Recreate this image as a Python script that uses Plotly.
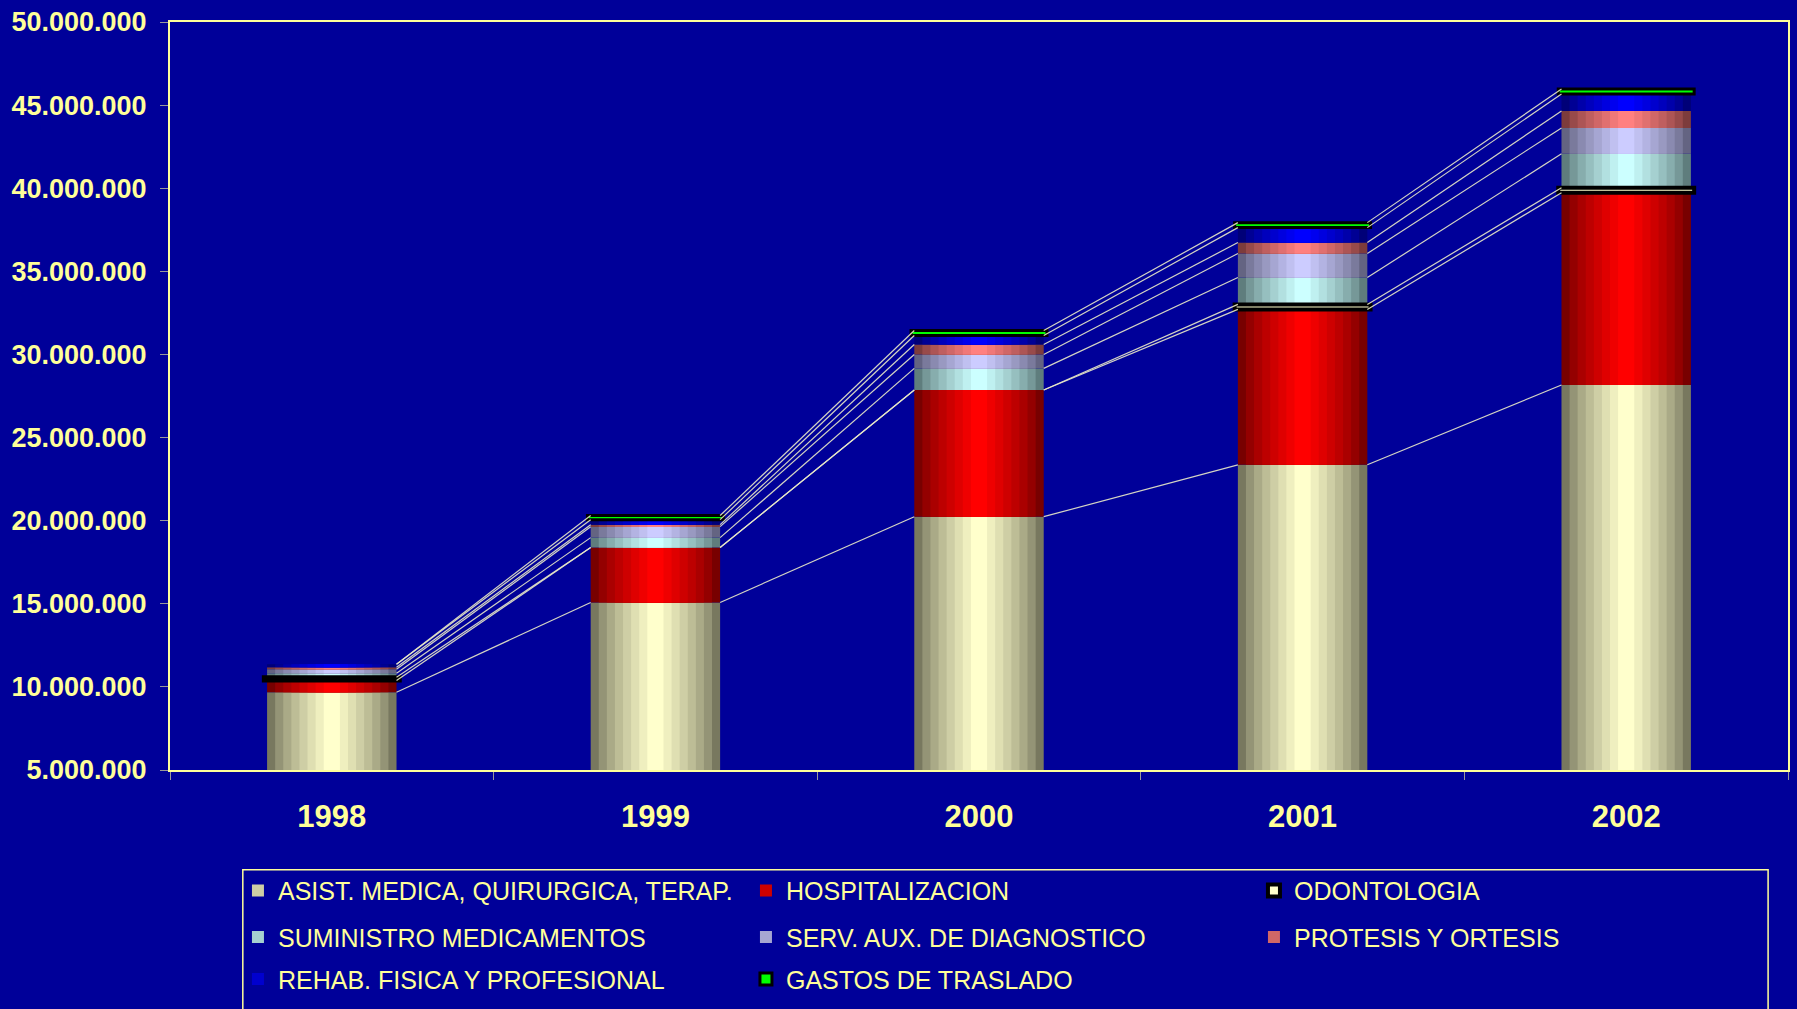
import plotly.graph_objects as go

# años y valores (millones)
anios = ['1998', '1999', '2000', '2001', '2002']

asist = [9.68, 15.08, 20.24, 23.36, 28.16]
hospital = [0.70, 3.30, 7.62, 9.35, 11.57]
odonto = [0.20, None, None, 0.30, 0.30]
suministro = [0.24, 0.60, 1.30, 1.62, 2.04]
serv_aux = [0.24, 0.66, 0.84, 1.44, 1.56]
protesis = [0.12, 0.12, 0.60, 0.66, 1.02]
rehab = [0.18, 0.30, 0.54, 0.90, 1.02]
traslado = [None, 0.25, 0.30, 0.30, 0.30]

nombres = ['ASIST. MEDICA, QUIRURGICA, TERAP.', 'HOSPITALIZACION', 'ODONTOLOGIA',
           'SUMINISTRO MEDICAMENTOS', 'SERV. AUX. DE DIAGNOSTICO', 'PROTESIS Y ORTESIS',
           'REHAB. FISICA Y PROFESIONAL', 'GASTOS DE TRASLADO']
series = [asist, hospital, odonto, suministro, serv_aux, protesis, rehab, traslado]

# colores (borde oscuro, centro claro) para simular cilindro
colores = [
    ((120, 120, 95), (255, 255, 204)),
    ((120, 0, 0), (255, 0, 0)),
    None,
    ((95, 125, 125), (204, 255, 255)),
    ((100, 100, 130), (204, 204, 255)),
    ((125, 60, 60), (255, 128, 128)),
    ((0, 0, 120), (0, 0, 255)),
    None,
]

AMARILLO = '#FFFF99'
FONDO = '#000099'
ANCHO = 0.4
CAPAS = 8

x = list(range(len(anios)))
millon = 1_000_000

# la leyenda va en tres filas (una leyenda horizontal por fila)
fila = ['legend', 'legend', 'legend', 'legend2', 'legend2', 'legend2', 'legend3', 'legend3']


def escala(s):
    return [None if v is None else v * millon for v in s]


# bases acumuladas
bases = []
acum = [0.0] * len(anios)
for s in series:
    bases.append([a * millon for a in acum])
    acum = [a + (v or 0) for a, v in zip(acum, s)]

fig = go.Figure()


def mezcla(c1, c2, t):
    return 'rgb(%d,%d,%d)' % tuple(round(a + (b - a) * t) for a, b in zip(c1, c2))


for i, (nombre, s) in enumerate(zip(nombres, series)):
    if colores[i] is None:
        continue
    borde, centro = colores[i]
    for k in range(CAPAS):
        t = k / (CAPAS - 1)
        fig.add_trace(go.Bar(
            x=x, y=escala(s), base=bases[i],
            width=ANCHO * (1 - k / CAPAS),
            marker=dict(color=mezcla(borde, centro, t ** 0.8), line=dict(width=0)),
            name=nombre, legendgroup=nombre, legendrank=i, legend=fila[i],
            showlegend=(k == CAPAS // 2),
        ))

# series finas con borde negro
for i, relleno, grosor in [(2, '#FFFFCC', 4), (7, '#00FF00', 3)]:
    fig.add_trace(go.Bar(
        x=x, y=escala(series[i]), base=bases[i],
        width=ANCHO + 0.02,
        marker=dict(color=relleno, line=dict(color='black', width=grosor)),
        name=nombres[i], legendgroup=nombres[i], legendrank=i, legend=fila[i],
    ))

# lineas de series (conectan el tope de cada serie entre barras)
for i, s in enumerate(series):
    topes = [b + (v or 0) * millon for b, v in zip(bases[i], s)]
    lx, ly = [], []
    for j in range(len(anios) - 1):
        lx += [x[j] + ANCHO / 2, x[j + 1] - ANCHO / 2, None]
        ly += [topes[j], topes[j + 1], None]
    fig.add_trace(go.Scatter(
        x=lx, y=ly, mode='lines', showlegend=False, hoverinfo='skip',
        line=dict(color='rgba(235,235,200,0.9)', width=1.2),
    ))

fuente_leyenda = dict(size=25, color=AMARILLO, family='Liberation Sans, Arial')
leyenda = dict(
    orientation='h', x=0.042, xanchor='left', yanchor='top',
    entrywidth=463, entrywidthmode='pixels',
    font=fuente_leyenda, bgcolor='rgba(0,0,0,0)', borderwidth=0,
    traceorder='normal',
)

fig.update_layout(
    width=1797, height=1009,
    barmode='overlay',
    paper_bgcolor=FONDO, plot_bgcolor=FONDO,
    separators=',.',
    font=dict(family='Liberation Sans, Arial', color=AMARILLO),
    margin=dict(l=170, r=7, t=21, b=238),
    legend=dict(leyenda, y=-0.1307),
    legend2=dict(leyenda, y=-0.193),
    legend3=dict(leyenda, y=-0.249),
    xaxis=dict(
        range=[-0.5, 4.5], tickvals=x, ticktext=anios, ticks='',
        tickfont=dict(size=31, family='Liberation Sans, Arial', weight='bold'),
        ticklabelstandoff=18,
        showline=True, linecolor=AMARILLO, linewidth=2, mirror=True,
        showgrid=False, zeroline=False,
        minor=dict(tickvals=[-0.5, 0.5, 1.5, 2.5, 3.5, 4.5], ticks='outside',
                   ticklen=8, tickcolor='#999999', tickwidth=1),
    ),
    yaxis=dict(
        range=[5 * millon, 50 * millon], dtick=5 * millon, tickformat=',d',
        tickfont=dict(size=27, family='Liberation Sans, Arial', weight='bold'),
        ticks='outside', ticklen=8, tickcolor='#999999', ticklabelstandoff=8,
        showline=True, linecolor=AMARILLO, linewidth=2, mirror=True,
        showgrid=False, zeroline=False,
    ),
    shapes=[dict(
        type='rect', xref='paper', yref='paper',
        x0=0.045, x1=0.9877, y0=-0.45, y1=-0.1333,
        line=dict(color=AMARILLO, width=1.5),
    )],
)

fig.write_html('out.html', config={'displayModeBar': False},
               post_script="document.body.style.margin='0';")
